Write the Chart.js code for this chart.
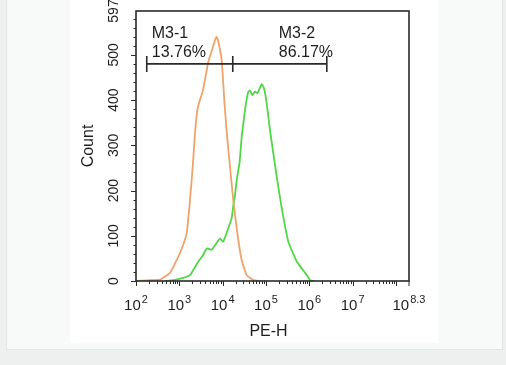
<!DOCTYPE html>
<html>
<head>
<meta charset="utf-8">
<script src="https://cdn.jsdelivr.net/npm/chart.js@4/dist/chart.umd.min.js"></script>
<style>
  html, body { margin: 0; padding: 0; }
  body { width: 506px; height: 365px; background: #eef0f0; position: relative; overflow: hidden; }
  #panel { position: absolute; left: 6px; top: -1px; width: 495px; height: 349px; background: #f8f9f9; border: 1px solid #e2e5e5; }
  #figure { position: absolute; left: 70px; top: 0; width: 368px; height: 343px; background: #fff; }
</style>
</head>
<body>
<div id="panel"></div>
<div id="figure"><canvas id="chart"></canvas></div>
<script>
"use strict";

// 軸の範囲と目盛り
const xMin = 100;
const xMax = Math.pow(10, 8.3);
const yMax = 597;
const xTickValues = [1e2, 1e3, 1e4, 1e5, 1e6, 1e7, Math.pow(10, 8.3)];
const xTickExps = ["2", "3", "4", "5", "6", "7", "8.3"];
const yTickLabels = [0, 100, 200, 300, 400, 500, 597];

// オレンジ（コントロール）
const orangeX = [100, 210, 358, 610, 869, 1153, 1480, 1762, 2036, 2300, 2600, 2890, 3520, 4670, 5680, 6660, 7280, 7800, 9500, 10900, 12450, 14800, 17580, 21800, 27500, 35880, 50900, 70000];
const orangeY = [0, 2, 3, 18, 46, 73, 106, 179, 252, 327, 378, 396, 422, 485, 511, 533, 540, 533, 489, 400, 327, 252, 179, 106, 46, 13, 2, 0];

// 緑（サンプル）
const greenX = [467, 726, 1216, 1762, 2740, 3520, 4280, 5590, 7020, 8670, 10340, 13490, 16170, 17620, 19280, 21100, 24500, 27500, 32750, 39050, 42760, 48300, 55700, 63000, 72700, 79600, 89900, 103700, 123600, 147500, 176600, 230500, 327600, 511600, 870000, 1038000, 1300000];
const greenY = [0, 2, 7, 13, 43, 57, 72, 69, 82, 94, 87, 117, 139, 168, 190, 223, 261, 319, 378, 419, 421, 411, 419, 415, 427, 436, 426, 393, 334, 282, 231, 161, 87, 43, 13, 2, 0];

// マーカー M3-1 / M3-2
const markerBounds = [177, 17100, 2530000];
const markerLevel = 480;
const markerNames = ["M3-1", "M3-2"];
const markerPercents = ["13.76%", "86.17%"];

const toPoints = (xs, ys) => xs.map((x, i) => ({ x: x, y: ys[i] }));

const FONT = "'Liberation Sans', Arial, sans-serif";

const decorations = {
  id: "decorations",
  afterDatasetsDraw(chart) {
    const ctx = chart.ctx;
    const area = chart.chartArea;
    const xs = chart.scales.x;
    const ys = chart.scales.y;
    ctx.save();
    ctx.strokeStyle = "#2a2a2a";
    ctx.fillStyle = "#1e1e1e";

    // 枠
    ctx.lineWidth = 1.6;
    ctx.strokeRect(area.left, area.top, area.right - area.left, area.bottom - area.top);

    // y 目盛り
    ctx.lineWidth = 1;
    for (let v = 0; v < yMax; v += 20) {
      const py = Math.round(ys.getPixelForValue(v)) + 0.5;
      const len = v % 100 === 0 ? 5 : 2.5;
      ctx.beginPath();
      ctx.moveTo(area.left - len, py);
      ctx.lineTo(area.left, py);
      ctx.stroke();
    }

    // x 目盛り（対数）
    for (let d = 2; d <= 8; d++) {
      for (let k = 1; k <= 9; k++) {
        const v = k * Math.pow(10, d);
        if (v > xMax) break;
        const px = Math.round(xs.getPixelForValue(v)) + 0.5;
        const len = k === 1 ? 5 : 3;
        ctx.beginPath();
        ctx.moveTo(px, area.bottom);
        ctx.lineTo(px, area.bottom + len);
        ctx.stroke();
      }
    }
    const pxEnd = xs.getPixelForValue(xMax);
    ctx.beginPath();
    ctx.moveTo(pxEnd, area.bottom);
    ctx.lineTo(pxEnd, area.bottom + 5);
    ctx.stroke();

    // y ラベル（回転）
    ctx.font = "14px " + FONT;
    ctx.textAlign = "center";
    ctx.textBaseline = "middle";
    yTickLabels.forEach(v => {
      ctx.save();
      ctx.translate(area.left - 22, ys.getPixelForValue(v));
      ctx.rotate(-Math.PI / 2);
      ctx.fillText(String(v), 0, 0);
      ctx.restore();
    });

    // x ラベル 10^n
    ctx.textAlign = "left";
    ctx.textBaseline = "alphabetic";
    xTickValues.forEach((v, i) => {
      ctx.font = "15px " + FONT;
      const wBase = ctx.measureText("10").width;
      ctx.font = "11px " + FONT;
      const wExp = ctx.measureText(xTickExps[i]).width;
      const total = wBase + 1 + wExp;
      const left = xs.getPixelForValue(v) - total / 2;
      ctx.font = "15px " + FONT;
      ctx.fillText("10", left, area.bottom + 29);
      ctx.font = "11px " + FONT;
      ctx.fillText(xTickExps[i], left + wBase + 1, area.bottom + 22);
    });

    // 軸タイトル
    ctx.font = "16px " + FONT;
    ctx.textAlign = "center";
    ctx.textBaseline = "middle";
    ctx.fillText("PE-H", (area.left + area.right) / 2 - 4, area.bottom + 51);
    ctx.save();
    ctx.translate(area.left - 47, (area.top + area.bottom) / 2);
    ctx.rotate(-Math.PI / 2);
    ctx.fillText("Count", 0, 0);
    ctx.restore();

    // マーカー
    const my = ys.getPixelForValue(markerLevel);
    const mpx = markerBounds.map(b => xs.getPixelForValue(b));
    ctx.lineWidth = 1.6;
    ctx.beginPath();
    ctx.moveTo(mpx[0], my);
    ctx.lineTo(mpx[mpx.length - 1], my);
    mpx.forEach(p => {
      ctx.moveTo(p, my - 8);
      ctx.lineTo(p, my + 8);
    });
    ctx.stroke();

    ctx.font = "16px " + FONT;
    ctx.textAlign = "left";
    ctx.textBaseline = "alphabetic";
    const labelLeft = [mpx[0] + 5, (mpx[1] + mpx[2]) / 2 - 1];
    markerNames.forEach((name, i) => {
      ctx.fillText(name, labelLeft[i], my - 26);
      ctx.fillText(markerPercents[i], labelLeft[i], my - 7);
    });

    ctx.restore();
  }
};

new Chart(document.getElementById("chart"), {
  type: "line",
  data: {
    datasets: [
      {
        label: "control",
        data: toPoints(orangeX, orangeY),
        borderColor: "#eea36a",
        borderWidth: 1.8,
        pointRadius: 0,
        tension: 0.1,
        fill: false
      },
      {
        label: "sample",
        data: toPoints(greenX, greenY),
        borderColor: "#4fd844",
        borderWidth: 1.8,
        pointRadius: 0,
        tension: 0.1,
        fill: false
      }
    ]
  },
  options: {
    responsive: true,
    maintainAspectRatio: false,
    animation: false,
    layout: { padding: { left: 66, right: 29, top: 11, bottom: 62 } },
    plugins: { legend: { display: false }, tooltip: { enabled: false } },
    scales: {
      x: {
        type: "logarithmic",
        min: xMin,
        max: xMax,
        grid: { display: false, drawTicks: false },
        border: { display: false },
        ticks: { display: false }
      },
      y: {
        type: "linear",
        min: 0,
        max: yMax,
        grid: { display: false, drawTicks: false },
        border: { display: false },
        ticks: { display: false }
      }
    }
  },
  plugins: [decorations]
});
</script>
</body>
</html>
